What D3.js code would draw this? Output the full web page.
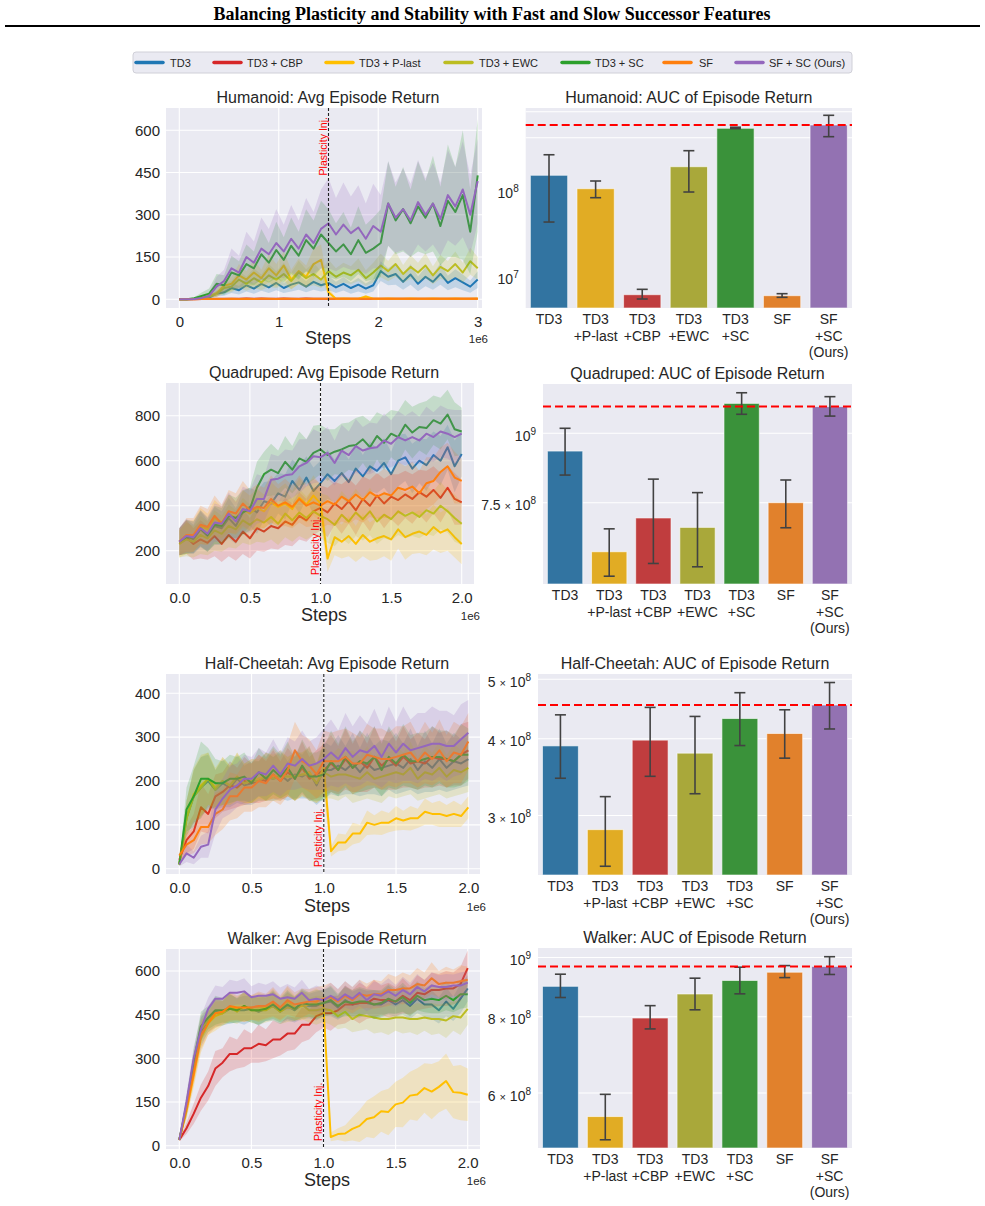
<!DOCTYPE html>
<html><head><meta charset="utf-8">
<script src="https://cdn.jsdelivr.net/npm/d3@7"></script>
<style>
body{margin:0;background:#fff;}
text{font-family:"Liberation Sans",Arial,sans-serif;fill:#262626;}
</style>
</head><body>
<svg id="c" width="985" height="1206"></svg>
<script>
// ---------------- DATA ----------------
const methods = ["TD3","TD3 + CBP","TD3 + P-last","TD3 + EWC","TD3 + SC","SF","SF + SC (Ours)"];
const lineColors = ["#1f77b4","#d62728","#ffbf00","#bcbd22","#2ca02c","#ff7f0e","#9467bd"];
const barLabels = [["TD3"],["TD3","+P-last"],["TD3","+CBP"],["TD3","+EWC"],["TD3","+SC"],["SF"],["SF","+SC","(Ours)"]];
const barColors = ["#3274a1","#e1ac24","#c03d3e","#a9a83a","#3a923a","#e1812c","#9372b2"];

// Humanoid: 41 samples, every 75k steps
const humStep = 75000;
const hum_TD3   = [0,0,1,4,6,20,25,40,32,50,38,55,42,58,40,52,60,45,62,50,58,42,55,40,52,38,50,100,80,90,62,88,55,80,62,90,58,75,60,45,70];
const hum_TD3_sd= [0,0,1,2,5,10,12,18,15,22,18,25,20,26,18,24,26,20,28,22,25,20,24,20,24,18,22,35,30,38,28,36,26,34,28,38,26,32,28,22,30];
const hum_CBP   = [0,0,0,1,1,2,2,2,2,3,2,3,2,2,3,2,2,3,2,2,2,2,2,2,2,2,2,2,2,2,2,2,2,2,2,2,2,2,2,2,2];
const hum_CBP_sd= [0,0,0,1,1,1,1,1,1,2,1,2,1,1,2,1,1,2,1,1,1,1,1,1,1,1,1,1,1,1,1,1,1,1,1,1,1,1,1,1,1];
const hum_PL    = [0,0,2,5,12,22,48,55,85,70,95,75,110,85,120,70,100,80,125,140,25,2,3,2,2,10,2,2,3,2,2,3,2,2,3,2,2,3,2,2,3];
const hum_PL_sd = [0,0,1,3,6,15,25,25,40,30,45,30,50,40,50,35,45,40,55,55,20,2,2,2,2,5,2,2,2,2,2,2,2,2,2,2,2,2,2,2,2];
const hum_EWC   = [0,0,1,4,10,18,40,45,70,55,75,60,85,70,90,65,95,75,90,70,100,80,95,85,105,75,95,120,100,125,90,115,95,120,85,115,100,125,95,135,110];
const hum_EWC_sd= [0,0,1,3,6,10,18,20,30,25,35,28,40,30,40,28,42,32,40,30,40,30,35,32,40,28,35,42,36,45,32,42,35,44,32,42,36,45,35,48,40];
const hum_SC    = [0,0,4,12,20,55,50,95,85,125,110,160,130,175,140,190,155,210,180,230,200,170,195,160,210,165,180,200,340,280,320,270,330,290,340,260,350,310,370,240,440];
const hum_SC_sd = [0,0,3,12,18,35,35,60,50,70,60,90,70,100,80,100,85,110,100,120,120,100,115,95,120,100,110,120,150,120,150,120,160,130,170,140,200,160,230,150,200];
const hum_SF    = [0,0,0,1,1,1,1,2,1,2,1,2,2,1,2,2,1,2,2,2,2,2,2,2,2,2,2,2,2,2,2,2,2,2,2,2,2,2,2,2,2];
const hum_SF_sd = [0,0,0,1,1,1,1,1,1,1,1,1,1,1,1,1,1,1,1,1,1,1,1,1,1,1,1,1,1,1,1,1,1,1,1,1,1,1,1,1,1];
const hum_SFSC  = [0,0,1,5,12,45,65,110,95,150,130,180,160,200,170,215,180,230,200,250,270,230,265,235,255,215,260,240,340,290,320,280,345,300,340,285,370,330,390,300,420];
const hum_SFSC_sd=[0,0,1,4,8,35,40,70,60,90,75,110,90,120,95,120,100,130,110,140,160,130,150,130,150,125,150,130,150,125,145,130,150,130,145,130,160,140,170,140,150];

// Quadruped: 41 samples, every 50k steps
const quadStep = 50000;
const q_TD3   = [240,265,250,295,265,310,300,345,310,370,395,370,420,410,455,440,510,470,525,465,500,540,510,545,505,565,530,575,555,590,540,600,615,565,600,580,625,600,660,575,630];
const q_TD3_sd= [60,75,65,80,70,85,75,90,80,95,85,95,85,100,90,100,95,105,95,105,100,110,95,110,100,110,95,110,100,110,100,115,105,110,100,115,105,110,100,115,100];
const q_CBP   = [240,260,230,250,235,265,230,270,240,285,255,300,285,310,300,330,315,355,335,375,390,370,410,385,420,380,430,400,445,410,440,425,450,430,460,440,470,435,480,430,415];
const q_CBP_sd= [60,75,70,85,75,90,80,95,85,100,90,100,90,100,95,105,95,105,95,105,100,110,95,110,100,110,100,115,100,110,100,115,105,110,100,115,105,110,100,115,100];
const q_PL    = [230,260,265,310,295,345,325,365,345,385,365,390,375,415,395,410,385,435,405,445,410,165,260,240,265,230,270,240,255,265,250,295,260,275,285,270,305,280,295,260,230];
const q_PL_sd = [60,75,70,80,70,80,70,85,75,85,80,85,75,90,80,90,80,90,80,90,80,60,80,75,90,80,95,85,95,90,95,85,100,90,95,90,100,90,95,90,90];
const q_EWC   = [230,250,240,270,255,290,275,310,295,335,315,340,325,350,320,365,335,370,345,375,355,340,315,360,330,370,340,375,330,360,340,375,355,370,350,380,365,400,375,345,320];
const q_EWC_sd= [60,75,70,85,75,90,80,95,85,100,90,100,90,100,95,105,95,105,95,105,100,105,95,105,100,105,95,105,100,105,95,105,100,105,95,105,100,105,95,105,95];
const q_SC    = [240,260,260,300,270,315,310,355,345,370,385,480,540,560,545,595,560,610,595,635,650,625,640,650,665,670,695,660,710,680,720,705,760,725,750,745,780,765,805,740,730];
const q_SC_sd = [60,75,70,80,75,85,80,95,90,100,95,115,100,115,100,115,105,120,100,120,110,115,100,115,105,120,105,115,105,120,105,115,110,115,105,120,110,115,110,120,105];
const q_SF    = [240,270,270,315,305,355,320,375,365,410,380,395,390,430,400,415,395,430,400,415,400,420,405,440,420,450,425,460,440,455,445,480,470,485,455,500,510,550,575,525,510];
const q_SF_sd = [60,75,75,85,80,90,85,95,90,100,90,100,90,105,95,105,95,105,95,105,100,105,95,110,100,110,100,110,100,110,100,115,105,110,100,115,105,110,105,115,100];
const q_SFSC  = [240,265,260,300,275,325,320,365,330,385,375,430,430,515,520,535,540,575,590,620,615,635,590,645,625,665,645,655,660,690,675,705,690,705,690,720,705,730,720,705,720];
const q_SFSC_sd=[60,75,70,80,75,85,80,95,85,100,95,110,100,115,100,115,105,120,105,120,110,115,100,115,105,120,105,115,105,120,105,115,110,115,105,120,110,115,110,120,105];

// Half-Cheetah: 41 samples, every 50k steps
const hcStep = 50000;
const hc_TD3   = [10,115,165,185,200,180,195,185,205,190,195,200,210,205,215,200,215,210,220,190,225,225,235,225,240,220,240,225,230,235,240,230,250,225,245,230,250,230,245,240,250];
const hc_TD3_sd= [5,40,60,70,60,45,55,45,55,45,50,45,55,50,55,45,55,50,60,45,65,55,70,55,70,55,70,55,65,55,70,55,70,55,70,55,70,55,65,55,60];
const hc_CBP   = [20,65,85,140,125,165,175,190,185,200,195,205,200,215,200,220,205,230,205,215,225,240,225,250,230,245,230,255,235,250,235,255,240,245,240,255,250,250,245,260,270];
const hc_CBP_sd= [5,30,40,55,45,50,45,55,45,55,45,55,45,55,45,55,50,60,50,55,60,65,55,70,55,70,55,70,55,70,55,70,55,65,55,70,60,65,55,70,65];
const hc_PL    = [10,115,170,190,205,185,200,190,210,195,200,205,210,210,215,210,210,215,220,195,230,40,60,60,80,80,105,100,105,105,115,110,115,115,130,125,125,120,125,120,140];
const hc_PL_sd = [5,40,60,70,60,45,55,45,55,45,50,45,55,50,55,45,55,50,60,45,65,12,20,18,25,20,28,22,28,22,28,22,28,22,30,25,30,25,30,25,25];
const hc_EWC   = [10,115,165,185,205,180,200,190,210,195,200,200,210,205,210,210,210,215,215,195,220,210,215,215,210,205,220,205,210,215,220,215,230,205,220,215,230,210,225,220,230];
const hc_EWC_sd= [5,40,60,70,60,45,55,45,55,45,50,45,55,50,55,45,55,50,60,45,60,50,60,50,60,50,60,50,60,50,60,50,60,50,60,50,60,50,60,50,55];
const hc_SC    = [10,135,165,205,205,195,195,205,205,210,195,220,205,225,210,230,205,235,210,210,215,245,225,255,230,245,240,255,225,255,240,260,245,245,250,255,255,250,245,260,260];
const hc_SC_sd = [5,50,70,85,70,55,50,55,50,55,45,55,50,55,50,60,50,60,55,55,60,70,60,70,60,70,60,70,60,70,60,70,60,65,60,70,60,65,60,70,60];
const hc_SF    = [30,55,65,95,95,125,135,165,165,185,185,200,195,215,200,225,270,245,235,215,245,245,245,255,240,240,260,255,250,250,255,260,265,245,265,250,270,245,265,260,290];
const hc_SF_sd = [10,25,30,40,38,48,45,55,50,55,55,60,55,60,55,60,65,60,60,55,70,65,70,65,70,60,70,65,70,60,70,65,70,60,70,60,70,60,70,65,65];
const hc_SFSC  = [10,35,25,50,55,135,160,180,190,205,205,220,215,235,215,240,235,250,235,240,250,265,250,275,255,270,265,280,255,285,265,285,270,275,280,285,285,280,280,295,310];
const hc_SFSC_sd=[5,20,15,25,30,55,45,55,50,55,50,55,50,60,50,60,55,65,55,60,70,75,65,80,70,80,65,85,70,85,70,85,70,80,75,85,75,80,70,80,75];

// Walker: 41 samples, every 50k steps
const wStep = 50000;
const w_TD3   = [20,130,270,390,430,460,455,470,465,465,470,460,470,480,460,480,465,485,480,480,490,495,475,500,485,490,490,485,485,500,485,500,480,505,485,485,465,495,470,505,540];
const w_TD3_sd= [5,30,40,50,40,50,42,50,42,50,42,48,42,50,42,50,42,50,42,50,45,50,42,50,45,50,42,50,45,50,42,50,45,50,42,50,45,50,42,50,45];
const w_CBP   = [20,60,110,165,205,265,285,315,315,335,335,350,345,365,365,385,385,415,415,445,455,455,465,485,485,490,490,505,500,500,495,515,500,525,520,535,535,540,540,555,610];
const w_CBP_sd= [5,20,35,45,50,60,50,60,50,65,50,65,55,65,55,60,55,60,50,55,50,60,50,65,50,70,55,65,50,60,50,60,50,60,50,60,55,60,55,60,60];
const w_PL    = [20,120,240,370,420,445,455,475,470,475,475,475,475,490,470,495,475,480,485,490,480,30,40,42,58,68,92,98,118,116,142,148,172,176,198,186,202,222,184,182,175];
const w_PL_sd = [5,30,40,50,40,50,42,50,42,50,42,50,42,50,42,50,42,50,42,50,45,15,20,28,40,55,62,72,70,80,78,85,82,90,85,95,88,95,90,95,90];
const w_EWC   = [20,130,280,400,430,455,455,475,460,480,465,465,465,480,460,475,470,485,465,465,470,465,445,460,435,450,445,440,435,435,440,440,435,435,440,435,435,430,445,440,470];
const w_EWC_sd= [5,30,40,50,40,50,42,50,42,50,42,50,42,50,42,50,42,50,42,50,45,50,45,55,45,55,45,55,45,55,45,55,45,55,45,55,50,60,50,60,55];
const w_SC    = [20,140,290,410,440,465,465,470,465,480,465,465,470,485,465,485,470,490,485,485,490,500,480,495,490,495,495,485,490,505,495,510,490,515,500,505,500,515,500,520,520];
const w_SC_sd = [5,30,40,50,40,50,42,50,42,50,42,50,42,50,42,50,42,50,42,50,45,50,42,50,45,50,42,50,45,50,42,50,45,50,42,50,45,50,42,50,45];
const w_SF    = [20,130,250,380,420,455,460,480,475,475,475,480,480,495,475,500,485,490,495,495,505,510,495,515,500,520,515,520,520,535,535,540,540,555,550,575,555,560,560,565,570];
const w_SF_sd = [5,30,40,50,40,50,42,50,42,50,42,50,42,50,42,50,42,50,42,50,45,50,42,50,45,50,42,50,45,55,45,55,45,55,45,55,45,55,45,55,45];
const w_SFSC  = [20,150,300,400,470,505,505,525,525,530,510,515,515,520,505,510,505,525,500,505,500,515,500,520,505,525,500,520,515,530,515,535,520,545,530,550,545,545,550,550,560];
const w_SFSC_sd=[5,30,40,45,38,45,40,45,40,45,38,45,38,45,38,45,38,45,38,45,40,45,38,45,40,45,38,45,40,45,38,45,40,45,38,45,40,45,38,45,40];

// AUC bars (order: TD3, +P-last, +CBP, +EWC, +SC, SF, SF+SC)
const humAUC     = [1.478e8, 1.035e8, 6.2e6, 1.856e8, 5.15e8, 6.04e6, 5.62e8];
const humAUC_lo  = [4.27e7, 8.15e7, 5.53e6, 9.48e7, 5.1e8, 5.78e6, 4.12e8];
const humAUC_hi  = [2.55e8, 1.27e8, 7.15e6, 2.84e8, 5.3e8, 6.37e6, 7.27e8];
const quadAUC    = [9.29e8, 6.12e8, 7.04e8, 6.77e8, 1.132e9, 7.5e8, 1.117e9];
const quadAUC_lo = [8.41e8, 5.53e8, 5.83e8, 5.75e8, 1.082e9, 6.76e8, 1.074e9];
const quadAUC_hi = [1.021e9, 6.73e8, 8.27e8, 7.82e8, 1.183e9, 8.24e8, 1.164e9];
const hcAUC      = [3.895e8, 2.845e8, 3.98e8, 3.79e8, 4.316e8, 4.08e8, 4.54e8];
const hcAUC_lo   = [3.45e8, 2.48e8, 3.475e8, 3.255e8, 3.9e8, 3.72e8, 4.15e8];
const hcAUC_hi   = [4.376e8, 3.22e8, 4.5e8, 4.35e8, 4.755e8, 4.46e8, 4.94e8];
const wAUC       = [8.97e8, 5.49e8, 7.96e8, 8.715e8, 9.17e8, 9.46e8, 9.67e8];
const wAUC_lo    = [8.6e8, 5.03e8, 7.64e8, 8.21e8, 8.72e8, 9.27e8, 9.38e8];
const wAUC_hi    = [9.39e8, 5.97e8, 8.34e8, 9.25e8, 9.64e8, 9.7e8, 1.003e9];

// tick values
const humXTicks = [0, 1e6, 2e6, 3e6], humYTicks = [0,150,300,450,600];
const quadXTicks = [0,0.5e6,1e6,1.5e6,2e6], quadYTicks = [200,400,600,800];
const hcXTicks = [0,0.5e6,1e6,1.5e6,2e6], hcYTicks = [0,100,200,300,400];
const wXTicks = [0,0.5e6,1e6,1.5e6,2e6], wYTicks = [0,150,300,450,600];
const humBarTicks = [1e7, 1e8], humBarGrid = [4e8, 8e8];
const quadBarTicks = [7.5e8, 1e9];
const hcBarTicks = [3e8, 4e8, 5e8];
const wBarTicks = [6e8, 8e8, 1e9];

// ---------------- DRAWING ----------------
const svg = d3.select("#c");
const BG = "#eaeaf2";

svg.append("text").attr("x", 492).attr("y", 20).attr("text-anchor","middle")
  .style("font-family","'Liberation Serif','Times New Roman',serif").style("font-weight","bold")
  .style("font-size","18px").style("fill","#000")
  .text("Balancing Plasticity and Stability with Fast and Slow Successor Features");
svg.append("line").attr("x1",5).attr("x2",980).attr("y1",26).attr("y2",26).attr("stroke","#000").attr("stroke-width",2);

// legend
const lg = svg.append("g");
lg.append("rect").attr("x",133).attr("y",52).attr("width",719).attr("height",21).attr("rx",3)
  .attr("fill","#eaeaf2").attr("stroke","#d0d0d8").attr("stroke-width",1);
const legX = [136, 214, 326, 445, 562, 664, 736];
const legTX = [170, 247, 359, 479, 595, 699, 769];
methods.forEach((m,i)=>{
  lg.append("line").attr("x1",legX[i]).attr("x2",legX[i]+27).attr("y1",62.5).attr("y2",62.5)
    .attr("stroke",lineColors[i]).attr("stroke-width",3.5).attr("stroke-linecap","round");
  lg.append("text").attr("x",legTX[i]).attr("y",66.5).style("font-size","11px").text(m);
});

let clipId = 0;
function linePanel(c){
  const g = svg.append("g");
  const [L,R,T,B] = c.rect;
  const x = d3.scaleLinear().domain([c.xA[0], c.xA[1]]).range([c.xA[2], c.xA[3]]);
  const y = d3.scaleLinear().domain([c.yA[0], c.yA[1]]).range([c.yA[2], c.yA[3]]);
  g.append("rect").attr("x",L).attr("y",T).attr("width",R-L).attr("height",B-T).attr("fill",BG);
  c.xTicks.forEach(t=>g.append("line").attr("x1",x(t)).attr("x2",x(t)).attr("y1",T).attr("y2",B).attr("stroke","#fff").attr("stroke-width",1.1));
  c.yTicks.forEach(t=>g.append("line").attr("y1",y(t)).attr("y2",y(t)).attr("x1",L).attr("x2",R).attr("stroke","#fff").attr("stroke-width",1.1));
  const id = "clip"+(clipId++);
  g.append("clipPath").attr("id",id).append("rect").attr("x",L).attr("y",T).attr("width",R-L).attr("height",B-T);
  const pg = g.append("g").attr("clip-path",`url(#${id})`);
  c.series.forEach((s,i)=>{
    const pts = s.map((v,k)=>({x:k*c.step, v:v, sd:c.sds[i][k]}));
    pg.append("path").datum(pts).attr("fill",lineColors[i]).attr("fill-opacity",0.2)
      .attr("d", d3.area().x(d=>x(d.x)).y0(d=>y(d.v-d.sd)).y1(d=>y(d.v+d.sd)));
    pg.append("path").datum(pts).attr("fill","none").attr("stroke",lineColors[i]).attr("stroke-width",2)
      .attr("stroke-linejoin","round")
      .attr("d", d3.line().x(d=>x(d.x)).y(d=>y(d.v)));
  });
  // injection line
  const ix = x(c.inj);
  g.append("line").attr("x1",ix).attr("x2",ix).attr("y1",T).attr("y2",B).attr("stroke","#222").attr("stroke-width",1.1).attr("stroke-dasharray","3,2");
  g.append("text").attr("transform",`translate(${ix-1.5},${y(c.injTextV)}) rotate(-90)`)
    .attr("text-anchor",c.injAnchor).style("font-size","10.5px").style("fill","#ff0000").text("Plasticity Inj.");
  // axes
  const ax = g.append("g").attr("transform",`translate(0,${B})`)
    .call(d3.axisBottom(x).tickValues(c.xTicks).tickFormat(c.xFmt).tickSize(0).tickPadding(8));
  ax.select(".domain").remove();
  ax.selectAll("text").style("font-size","15px").style("fill","#262626").style("font-family","'Liberation Sans',Arial,sans-serif");
  const ay = g.append("g").attr("transform",`translate(${L},0)`)
    .call(d3.axisLeft(y).tickValues(c.yTicks).tickFormat(d3.format("d")).tickSize(0).tickPadding(6));
  ay.select(".domain").remove();
  ay.selectAll("text").style("font-size","15px").style("fill","#262626").style("font-family","'Liberation Sans',Arial,sans-serif");
  g.append("text").attr("x",(L+R)/2+4).attr("y",T-5).attr("text-anchor","middle").style("font-size","16px").text(c.title);
  g.append("text").attr("x",(L+R)/2+4).attr("y",c.stepsY).attr("text-anchor","middle").style("font-size","18px").text("Steps");
  g.append("text").attr("x",R+6).attr("y",c.stepsY-1).attr("text-anchor","end").style("font-size","11.5px").text("1e6");
}

function barPanel(c){
  const g = svg.append("g");
  const [L,R,T,B] = c.rect;
  const x = d3.scaleBand().domain(d3.range(7)).range([L,R]).paddingInner(0.2).paddingOuter(0.1);
  const y = d3.scaleLog().domain([c.yA[0], c.yA[1]]).range([c.yA[2], c.yA[3]]);
  g.append("rect").attr("x",L).attr("y",T).attr("width",R-L).attr("height",B-T).attr("fill",BG);
  c.grid.forEach(t=>g.append("line").attr("y1",y(t)).attr("y2",y(t)).attr("x1",L).attr("x2",R).attr("stroke","#fff").attr("stroke-width",1.1));
  c.vals.forEach((v,i)=>{
    g.append("rect").attr("x",x(i)).attr("y",y(v)).attr("width",x.bandwidth()).attr("height",B-y(v))
      .attr("fill",barColors[i]).attr("stroke","#fff").attr("stroke-opacity",0.6).attr("stroke-width",1);
  });
  c.vals.forEach((v,i)=>{
    const cx = x(i)+x.bandwidth()/2;
    const ey = g.append("g").attr("stroke","#424242").attr("stroke-width",1.6);
    ey.append("line").attr("x1",cx).attr("x2",cx).attr("y1",y(c.lo[i])).attr("y2",y(c.hi[i]));
    ey.append("line").attr("x1",cx-5.5).attr("x2",cx+5.5).attr("y1",y(c.lo[i])).attr("y2",y(c.lo[i]));
    ey.append("line").attr("x1",cx-5.5).attr("x2",cx+5.5).attr("y1",y(c.hi[i])).attr("y2",y(c.hi[i]));
  });
  g.append("line").attr("x1",L).attr("x2",R).attr("y1",y(c.vals[6])).attr("y2",y(c.vals[6]))
    .attr("stroke","#ff0000").attr("stroke-width",2).attr("stroke-dasharray","8,4");
  const ax = g.append("g").attr("transform",`translate(0,${B})`)
    .call(d3.axisBottom(x).tickSize(0).tickPadding(6).tickFormat(""));
  ax.select(".domain").remove();
  ax.selectAll(".tick text").each(function(d){
    const t = d3.select(this).attr("dy",null).attr("y",16).style("font-size","14px").style("fill","#262626");
    barLabels[d].forEach((ln,j)=>t.append("tspan").attr("x",0).attr("dy", j===0?0:16.5).text(ln));
  });
  const ay = g.append("g").attr("transform",`translate(${L},0)`)
    .call(d3.axisLeft(y).tickValues(c.ticks).tickSize(0).tickPadding(7).tickFormat(""));
  ay.select(".domain").remove();
  ay.selectAll(".tick text").each(function(d){
    const e = Math.floor(Math.log10(d)+1e-9);
    const m = d/Math.pow(10,e);
    const t = d3.select(this).attr("dy","0.5em").style("font-size","14px").style("fill","#262626");
    if (Math.abs(m-1)>1e-6){
      t.append("tspan").text(d3.format("~g")(m)+" ");
      t.append("tspan").style("font-size","11px").text("×");
      t.append("tspan").text(" 10");
    } else {
      t.append("tspan").text("10");
    }
    t.append("tspan").attr("dy","-0.6em").style("font-size","10px").text(e);
  });
  g.append("text").attr("x",(L+R)/2).attr("y",T-5).attr("text-anchor","middle").style("font-size","16px").text(c.title);
}

const f0 = d=>d3.format("d")(d/1e6);
const f1 = d=>d3.format(".1f")(d/1e6);

linePanel({rect:[166,482,108,308], xA:[0,3e6,179.3,477.7], yA:[0,600,299.3,130.3],
  xTicks:humXTicks, yTicks:humYTicks, xFmt:f0, step:humStep,
  series:[hum_TD3,hum_CBP,hum_PL,hum_EWC,hum_SC,hum_SF,hum_SFSC],
  sds:[hum_TD3_sd,hum_CBP_sd,hum_PL_sd,hum_EWC_sd,hum_SC_sd,hum_SF_sd,hum_SFSC_sd],
  inj:1.5e6, injTextV:647, injAnchor:"end", title:"Humanoid: Avg Episode Return", stepsY:344});
linePanel({rect:[166,474,383,584], xA:[0,2e6,179.3,461.7], yA:[200,800,550.7,415.7],
  xTicks:quadXTicks, yTicks:quadYTicks, xFmt:f1, step:quadStep,
  series:[q_TD3,q_CBP,q_PL,q_EWC,q_SC,q_SF,q_SFSC],
  sds:[q_TD3_sd,q_CBP_sd,q_PL_sd,q_EWC_sd,q_SC_sd,q_SF_sd,q_SFSC_sd],
  inj:1e6, injTextV:92, injAnchor:"start", title:"Quadruped: Avg Episode Return", stepsY:621});
linePanel({rect:[166,480,674,874], xA:[0,2e6,179.3,468.3], yA:[0,400,868.7,693.3],
  xTicks:hcXTicks, yTicks:hcYTicks, xFmt:f1, step:hcStep,
  series:[hc_TD3,hc_CBP,hc_PL,hc_EWC,hc_SC,hc_SF,hc_SFSC],
  sds:[hc_TD3_sd,hc_CBP_sd,hc_PL_sd,hc_EWC_sd,hc_SC_sd,hc_SF_sd,hc_SFSC_sd],
  inj:1e6, injTextV:4, injAnchor:"start", title:"Half-Cheetah: Avg Episode Return", stepsY:912});
linePanel({rect:[166,480,949,1149], xA:[0,2e6,179.3,467.7], yA:[0,600,1145.7,971],
  xTicks:wXTicks, yTicks:wYTicks, xFmt:f1, step:wStep,
  series:[w_TD3,w_CBP,w_PL,w_EWC,w_SC,w_SF,w_SFSC],
  sds:[w_TD3_sd,w_CBP_sd,w_PL_sd,w_EWC_sd,w_SC_sd,w_SF_sd,w_SFSC_sd],
  inj:1e6, injTextV:16, injAnchor:"start", title:"Walker: Avg Episode Return", stepsY:1186});

barPanel({rect:[525.7,852,108,308], yA:[1e7,1e8,276.7,190], vals:humAUC, lo:humAUC_lo, hi:humAUC_hi,
  ticks:humBarTicks, grid:humBarGrid, title:"Humanoid: AUC of Episode Return"});
barPanel({rect:[543,852,384,584], yA:[7.5e8,1e9,502.7,433.3], vals:quadAUC, lo:quadAUC_lo, hi:quadAUC_hi,
  ticks:quadBarTicks, grid:quadBarTicks, title:"Quadruped: AUC of Episode Return"});
barPanel({rect:[538,852,674,875], yA:[3e8,5e8,815.5,679.3], vals:hcAUC, lo:hcAUC_lo, hi:hcAUC_hi,
  ticks:hcBarTicks, grid:hcBarTicks, title:"Half-Cheetah: AUC of Episode Return"});
barPanel({rect:[538,852,948,1148], yA:[6e8,1e9,1093,957.5], vals:wAUC, lo:wAUC_lo, hi:wAUC_hi,
  ticks:wBarTicks, grid:wBarTicks, title:"Walker: AUC of Episode Return"});
</script>
</body></html>
